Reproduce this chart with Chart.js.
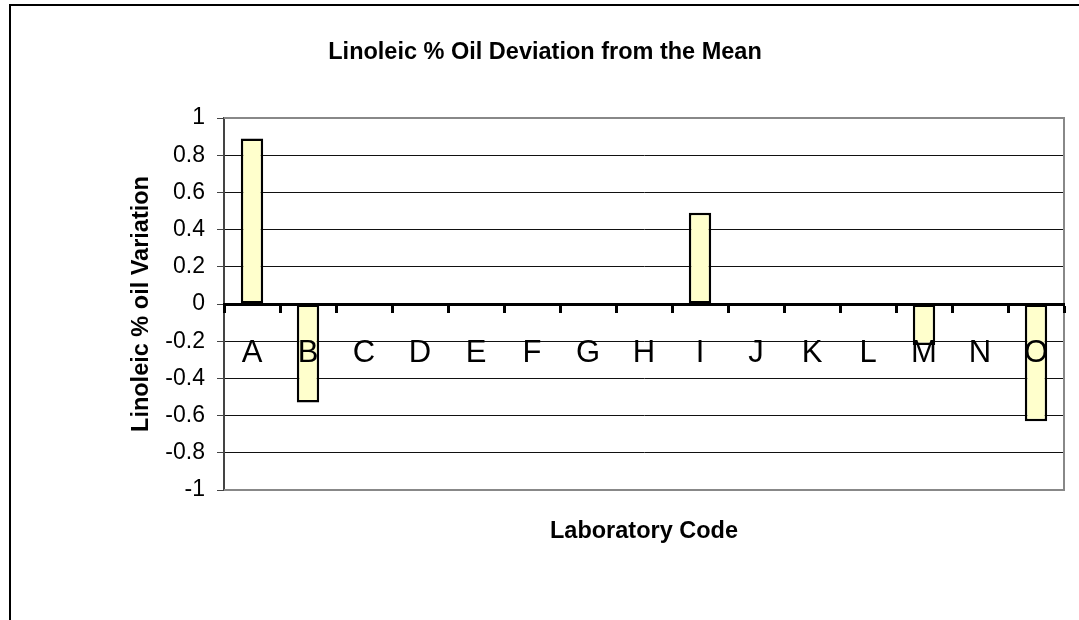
<!DOCTYPE html>
<html>
<head>
<meta charset="utf-8">
<script src="https://cdn.jsdelivr.net/npm/chart.js@4.4.0/dist/chart.umd.min.js"></script>
<style>
  html, body { margin: 0; padding: 0; background: #fff; }
  #wrap { width: 1079px; height: 620px; }
</style>
</head>
<body>
<div id="wrap"><canvas id="myChart" width="1079" height="620"></canvas></div>
<script>
    const labCodes = ['A', 'B', 'C', 'D', 'E', 'F', 'G', 'H', 'I', 'J', 'K', 'L', 'M', 'N', 'O'];
    const deviation = [0.89, -0.53, 0, 0, 0, 0, 0, 0, 0.49, 0, 0, 0, -0.22, 0, -0.63];
    const yTickValues = [1, 0.8, 0.6, 0.4, 0.2, 0, -0.2, -0.4, -0.6, -0.8, -1];

    const fontFamily = "'Liberation Sans', Arial, sans-serif";
    Chart.defaults.font.family = fontFamily;
    Chart.defaults.color = '#000';

    // white page + outer chart border
    const chartBorder = {
        id: 'chartBorder',
        beforeDraw(chart) {
            const c = chart.ctx;
            c.save();
            c.fillStyle = '#fff';
            c.fillRect(0, 0, chart.width, chart.height);
            c.strokeStyle = '#000';
            c.lineWidth = 2;
            c.strokeRect(10, 5, chart.width + 20, chart.height + 20);
            c.restore();
        }
    };

    // gray frame round the plot area
    const plotFrame = {
        id: 'plotFrame',
        beforeDatasetsDraw(chart) {
            const a = chart.chartArea;
            const c = chart.ctx;
            c.save();
            c.strokeStyle = '#888';
            c.lineWidth = 2;
            c.beginPath();
            c.moveTo(a.left, a.top);
            c.lineTo(a.right, a.top);
            c.lineTo(a.right, a.bottom);
            c.lineTo(a.left, a.bottom);
            c.stroke();
            c.restore();
        }
    };

    const ctx = document.getElementById('myChart').getContext('2d');
    const myChart = new Chart(ctx, {
        type: 'bar',
        data: {
            labels: labCodes,
            datasets: [{
                data: deviation,
                backgroundColor: '#FFFFCC',
                borderColor: '#000',
                borderWidth: 2.5,
                borderSkipped: false,
                barPercentage: 0.4,
                categoryPercentage: 1
            }]
        },
        options: {
            responsive: false,
            animation: false,
            layout: { padding: { left: 26, right: 15, top: 0, bottom: 0 } },
            plugins: {
                legend: { display: false },
                tooltip: { enabled: false },
                title: {
                    display: true,
                    text: 'Linoleic % Oil Deviation from the Mean',
                    color: '#000',
                    font: { size: 23.5, weight: 'bold' },
                    padding: { top: 38, bottom: 51.8 }
                }
            },
            scales: {
                x: {
                    type: 'category',
                    position: 'bottom',
                    offset: true,
                    grid: { display: false },
                    border: { display: false },
                    ticks: { display: false },
                    title: {
                        display: true,
                        text: 'Laboratory Code',
                        color: '#000',
                        font: { size: 23.5, weight: 'bold' },
                        padding: { top: 0, bottom: 74 }
                    },
                    afterFit: s => { s.height = 130; }
                },
                x2: {
                    type: 'category',
                    labels: labCodes,
                    position: { y: 0 },
                    offset: true,
                    grid: {
                        offset: true,
                        drawOnChartArea: false,
                        drawTicks: true,
                        tickLength: 7,
                        tickWidth: 3,
                        tickColor: '#000',
                        z: 1
                    },
                    border: { display: true, color: '#000', width: 3, z: 1 },
                    ticks: {
                        color: '#000',
                        font: { size: 31 },
                        padding: 24,
                        maxRotation: 0,
                        autoSkip: false,
                        z: 1
                    }
                },
                y: {
                    min: -1,
                    max: 1,
                    afterBuildTicks: s => { s.ticks = yTickValues.map(v => ({ value: v })); },
                    ticks: {
                        color: '#000',
                        font: { size: 23 },
                        padding: 12,
                        callback: v => String(parseFloat(v.toFixed(1)))
                    },
                    grid: {
                        color: '#111',
                        lineWidth: 1,
                        tickLength: 7,
                        tickColor: '#444'
                    },
                    border: { color: '#444', width: 2 },
                    title: {
                        display: true,
                        text: 'Linoleic % oil Variation',
                        color: '#000',
                        font: { size: 23.5, weight: 'bold' },
                        padding: { top: 101, bottom: 0 }
                    },
                    afterFit: s => { s.width = 198; }
                }
            }
        },
        plugins: [chartBorder, plotFrame]
    });
</script>
</body>
</html>
